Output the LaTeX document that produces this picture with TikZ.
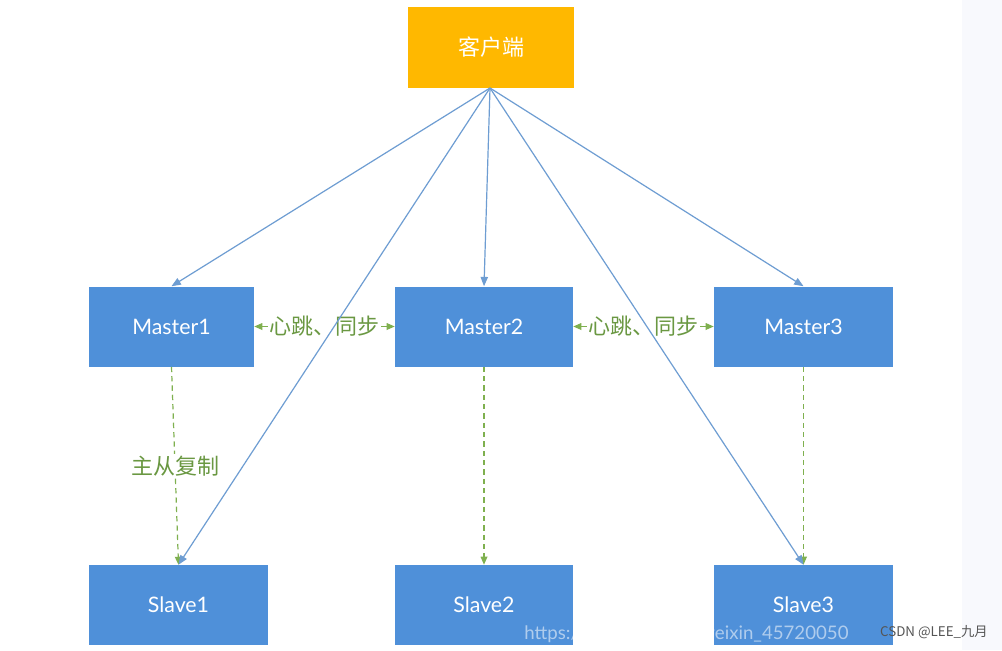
\documentclass[tikz,border=0pt]{standalone}
\usepackage{fontspec}
\setmainfont{Lato}
\newfontfamily\cjk{Noto Sans CJK SC}
\usetikzlibrary{arrows.meta}
\definecolor{clientor}{HTML}{FFB800}
\definecolor{boxblue}{HTML}{4F90D9}
\definecolor{lineblue}{HTML}{6E9DD2}
\definecolor{arrgreen}{HTML}{7FB04F}
\definecolor{txtgreen}{HTML}{6A9842}
\definecolor{wmgray}{HTML}{555555}
\definecolor{edgetint}{HTML}{F8F9FD}
\tikzset{
  box/.style={draw=none, fill=boxblue, text=white, minimum height={80*0.75pt}, inner sep=0pt, font=\fontsize{16}{19}\selectfont},
  clientbox/.style={draw=none, fill=clientor, text=white, minimum width={166*0.75pt}, minimum height={81*0.75pt}, inner sep=0pt, font=\cjk\fontsize{16.5}{20}\selectfont},
  bluearrow/.style={draw=lineblue, line width=0.9pt, -{Triangle[length=7pt,width=5.5pt]}},
  greendash/.style={draw=arrgreen, line width=0.9pt, dash pattern=on 4pt off 3pt, -{Triangle[length=6pt,width=5pt]}},
  greendouble/.style={draw=arrgreen, line width=0.9pt, {Triangle[length=6pt,width=5pt]}-{Triangle[length=6pt,width=5pt]}},
  glabel/.style={fill=white, text=txtgreen, inner sep=1pt, font=\cjk\fontsize{16.5}{20}\selectfont}
}
\begin{document}
\begin{tikzpicture}[x=0.75pt, y=-0.75pt]
\useasboundingbox (0,0) rectangle (1002,650);
\clip (0,0) rectangle (1002,650);
\fill[white] (0,0) rectangle (1002,650);
\fill[edgetint] (962,0) rectangle (1002,650);

% nodes
\node[clientbox] (client) at (491,47.5) {客户端};
\node[box, minimum width={165*0.75pt}] (m1) at (171.5,326.5) {Master1};
\node[box, minimum width={178*0.75pt}] (m2) at (484,326.5) {Master2};
\node[box, minimum width={179*0.75pt}] (m3) at (803.5,326.5) {Master3};
\node[box, minimum width={179*0.75pt}] (s1) at (178.5,605) {Slave1};
\node[box, minimum width={178*0.75pt}] (s2) at (484,605) {Slave2};
\node[box, minimum width={179*0.75pt}] (s3) at (803.5,605) {Slave3};

% green heartbeat / sync arrows
\draw[greendouble] (m1.east) -- node[glabel] (hb1) {心跳、同步} (m2.west);
\draw[greendouble] (m2.east) -- node[glabel] (hb2) {心跳、同步} (m3.west);

% green replication arrows
\draw[greendash] (m1.south) -- node[glabel, pos=0.5] (rep) {主从复制} (s1.north);
\draw[greendash] (m2.south) -- (s2.north);
\draw[greendash] (m3.south) -- (s3.north);

% client connections
\coordinate (c0) at (490,88);
\draw[bluearrow] (c0) -- (m1.north);
\draw[bluearrow] (c0) -- (s1.north);
\draw[bluearrow] (c0) -- (m2.north);
\draw[bluearrow] (c0) -- (s3.north);
\draw[bluearrow] (c0) -- (m3.north);

% watermarks
\node[text=white, opacity=0.55, anchor=west, inner sep=0pt, font=\fontsize{14}{16}\selectfont] (url) at (524,634) {https://blog.csdn.net/weixin\_45720050};
\node[text=wmgray, anchor=east, inner sep=0pt, font=\cjk\fontsize{10}{12}\selectfont] (wm) at (988,632) {CSDN @LEE\_九月};
\end{tikzpicture}
\end{document}
